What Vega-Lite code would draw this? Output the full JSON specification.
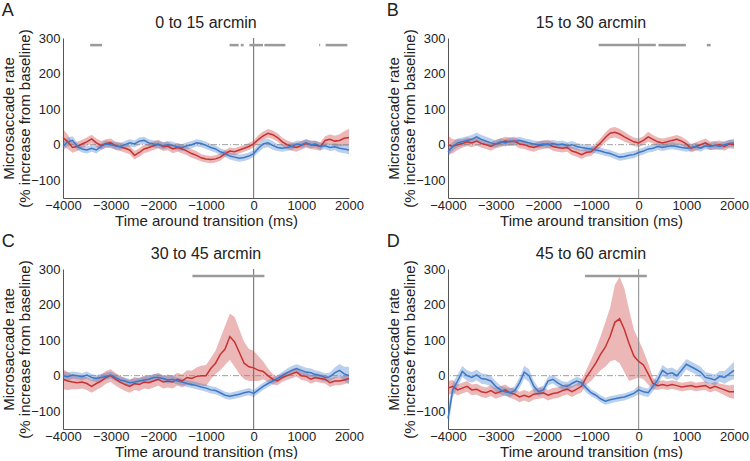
{
"$schema":"https://vega.github.io/schema/vega-lite/v6.json",
"padding":{"left":1,"top":1,"right":0,"bottom":0},
"background":"white",
"config":{"view":{"stroke":null},"font":"Liberation Sans",
"title":{"fontWeight":"normal","color":"#222","font":"Liberation Sans"},
"axis":{"domainColor":"#555","domainWidth":1,"ticks":false,"grid":false,"labelFont":"Liberation Sans","labelFontSize":13,"labelColor":"#222","titleFont":"Liberation Sans","titleFontSize":15,"titleFontWeight":"normal","titleColor":"#222","labelPadding":3,"labelFlush":false,"labelOverlap":false},
"axisY":{"titlePadding":-2,"titleLineHeight":16},
"axisX":{"titlePadding":1,"labelPadding":1}},
"datasets":{
"sig":[
{"p":"A","t0":-3430,"t1":-3180},{"p":"A","t0":-505,"t1":-315},{"p":"A","t0":-270,"t1":-210},{"p":"A","t0":-90,"t1":195},{"p":"A","t0":225,"t1":665},{"p":"A","t0":1375,"t1":1395},{"p":"A","t0":1510,"t1":1965},
{"p":"B","t0":-840,"t1":360},{"p":"B","t0":415,"t1":990},{"p":"B","t0":1430,"t1":1510},
{"p":"C","t0":-1285,"t1":225},
{"p":"D","t0":-1125,"t1":170}],
"ts":[
{"p":"A","s":"r","t":-4000,"m":20,"lo":-5,"hi":45},{"p":"A","s":"r","t":-3900,"m":8,"lo":-12,"hi":28},{"p":"A","s":"r","t":-3800,"m":-8,"lo":-23,"hi":7},{"p":"A","s":"r","t":-3700,"m":-5,"lo":-18,"hi":8},{"p":"A","s":"r","t":-3600,"m":2,"lo":-10,"hi":14},{"p":"A","s":"r","t":-3500,"m":8,"lo":-4,"hi":20},{"p":"A","s":"r","t":-3400,"m":16,"lo":4,"hi":28},{"p":"A","s":"r","t":-3300,"m":5,"lo":-7,"hi":17},{"p":"A","s":"r","t":-3200,"m":-2,"lo":-14,"hi":10},{"p":"A","s":"r","t":-3100,"m":3,"lo":-9,"hi":15},{"p":"A","s":"r","t":-3000,"m":5,"lo":-7,"hi":17},{"p":"A","s":"r","t":-2900,"m":-3,"lo":-15,"hi":9},{"p":"A","s":"r","t":-2800,"m":-6,"lo":-18,"hi":6},{"p":"A","s":"r","t":-2700,"m":-10,"lo":-22,"hi":2},{"p":"A","s":"r","t":-2600,"m":-15,"lo":-27,"hi":-3},{"p":"A","s":"r","t":-2500,"m":-30,"lo":-42,"hi":-18},{"p":"A","s":"r","t":-2400,"m":-22,"lo":-34,"hi":-10},{"p":"A","s":"r","t":-2300,"m":-12,"lo":-24,"hi":0},{"p":"A","s":"r","t":-2200,"m":-8,"lo":-20,"hi":4},{"p":"A","s":"r","t":-2100,"m":-3,"lo":-15,"hi":9},{"p":"A","s":"r","t":-2000,"m":2,"lo":-10,"hi":14},{"p":"A","s":"r","t":-1900,"m":-6,"lo":-18,"hi":6},{"p":"A","s":"r","t":-1800,"m":-4,"lo":-16,"hi":8},{"p":"A","s":"r","t":-1700,"m":-12,"lo":-24,"hi":0},{"p":"A","s":"r","t":-1600,"m":-8,"lo":-20,"hi":4},{"p":"A","s":"r","t":-1500,"m":-12,"lo":-24,"hi":0},{"p":"A","s":"r","t":-1400,"m":-18,"lo":-30,"hi":-6},{"p":"A","s":"r","t":-1300,"m":-25,"lo":-37,"hi":-13},{"p":"A","s":"r","t":-1200,"m":-30,"lo":-42,"hi":-18},{"p":"A","s":"r","t":-1100,"m":-37,"lo":-47,"hi":-27},{"p":"A","s":"r","t":-1000,"m":-40,"lo":-50,"hi":-30},{"p":"A","s":"r","t":-900,"m":-42,"lo":-52,"hi":-32},{"p":"A","s":"r","t":-800,"m":-40,"lo":-50,"hi":-30},{"p":"A","s":"r","t":-700,"m":-35,"lo":-45,"hi":-25},{"p":"A","s":"r","t":-600,"m":-25,"lo":-35,"hi":-15},{"p":"A","s":"r","t":-500,"m":-18,"lo":-28,"hi":-8},{"p":"A","s":"r","t":-400,"m":-20,"lo":-30,"hi":-10},{"p":"A","s":"r","t":-300,"m":-15,"lo":-25,"hi":-5},{"p":"A","s":"r","t":-200,"m":-10,"lo":-20,"hi":0},{"p":"A","s":"r","t":-100,"m":-5,"lo":-15,"hi":5},{"p":"A","s":"r","t":0,"m":2,"lo":-8,"hi":12},{"p":"A","s":"r","t":100,"m":15,"lo":3,"hi":27},{"p":"A","s":"r","t":200,"m":25,"lo":13,"hi":37},{"p":"A","s":"r","t":300,"m":32,"lo":20,"hi":44},{"p":"A","s":"r","t":400,"m":28,"lo":16,"hi":40},{"p":"A","s":"r","t":500,"m":20,"lo":8,"hi":32},{"p":"A","s":"r","t":600,"m":8,"lo":-4,"hi":20},{"p":"A","s":"r","t":700,"m":0,"lo":-12,"hi":12},{"p":"A","s":"r","t":800,"m":-5,"lo":-17,"hi":7},{"p":"A","s":"r","t":900,"m":-8,"lo":-20,"hi":4},{"p":"A","s":"r","t":1000,"m":-2,"lo":-14,"hi":10},{"p":"A","s":"r","t":1100,"m":3,"lo":-9,"hi":15},{"p":"A","s":"r","t":1200,"m":0,"lo":-12,"hi":12},{"p":"A","s":"r","t":1300,"m":-2,"lo":-14,"hi":10},{"p":"A","s":"r","t":1400,"m":-5,"lo":-17,"hi":7},{"p":"A","s":"r","t":1500,"m":12,"lo":0,"hi":24},{"p":"A","s":"r","t":1600,"m":15,"lo":1,"hi":29},{"p":"A","s":"r","t":1700,"m":10,"lo":-5,"hi":25},{"p":"A","s":"r","t":1800,"m":12,"lo":-5,"hi":29},{"p":"A","s":"r","t":1900,"m":18,"lo":-2,"hi":38},{"p":"A","s":"r","t":2000,"m":20,"lo":-5,"hi":45},
{"p":"A","s":"b","t":-4000,"m":-5,"lo":-17,"hi":7},{"p":"A","s":"b","t":-3900,"m":8,"lo":-4,"hi":20},{"p":"A","s":"b","t":-3800,"m":12,"lo":0,"hi":24},{"p":"A","s":"b","t":-3700,"m":-5,"lo":-15,"hi":5},{"p":"A","s":"b","t":-3600,"m":-12,"lo":-22,"hi":-2},{"p":"A","s":"b","t":-3500,"m":-15,"lo":-25,"hi":-5},{"p":"A","s":"b","t":-3400,"m":-10,"lo":-20,"hi":0},{"p":"A","s":"b","t":-3300,"m":-15,"lo":-25,"hi":-5},{"p":"A","s":"b","t":-3200,"m":-5,"lo":-15,"hi":5},{"p":"A","s":"b","t":-3100,"m":2,"lo":-8,"hi":12},{"p":"A","s":"b","t":-3000,"m":0,"lo":-10,"hi":10},{"p":"A","s":"b","t":-2900,"m":-3,"lo":-13,"hi":7},{"p":"A","s":"b","t":-2800,"m":-5,"lo":-15,"hi":5},{"p":"A","s":"b","t":-2700,"m":0,"lo":-10,"hi":10},{"p":"A","s":"b","t":-2600,"m":5,"lo":-5,"hi":15},{"p":"A","s":"b","t":-2500,"m":2,"lo":-8,"hi":12},{"p":"A","s":"b","t":-2400,"m":10,"lo":0,"hi":20},{"p":"A","s":"b","t":-2300,"m":12,"lo":2,"hi":22},{"p":"A","s":"b","t":-2200,"m":5,"lo":-5,"hi":15},{"p":"A","s":"b","t":-2100,"m":2,"lo":-8,"hi":12},{"p":"A","s":"b","t":-2000,"m":0,"lo":-10,"hi":10},{"p":"A","s":"b","t":-1900,"m":-3,"lo":-13,"hi":7},{"p":"A","s":"b","t":-1800,"m":0,"lo":-10,"hi":10},{"p":"A","s":"b","t":-1700,"m":-2,"lo":-12,"hi":8},{"p":"A","s":"b","t":-1600,"m":-6,"lo":-16,"hi":4},{"p":"A","s":"b","t":-1500,"m":-8,"lo":-18,"hi":2},{"p":"A","s":"b","t":-1400,"m":-3,"lo":-13,"hi":7},{"p":"A","s":"b","t":-1300,"m":0,"lo":-10,"hi":10},{"p":"A","s":"b","t":-1200,"m":5,"lo":-5,"hi":15},{"p":"A","s":"b","t":-1100,"m":3,"lo":-7,"hi":13},{"p":"A","s":"b","t":-1000,"m":-2,"lo":-12,"hi":8},{"p":"A","s":"b","t":-900,"m":-8,"lo":-18,"hi":2},{"p":"A","s":"b","t":-800,"m":-12,"lo":-22,"hi":-2},{"p":"A","s":"b","t":-700,"m":-20,"lo":-30,"hi":-10},{"p":"A","s":"b","t":-600,"m":-25,"lo":-35,"hi":-15},{"p":"A","s":"b","t":-500,"m":-32,"lo":-42,"hi":-22},{"p":"A","s":"b","t":-400,"m":-35,"lo":-45,"hi":-25},{"p":"A","s":"b","t":-300,"m":-38,"lo":-48,"hi":-28},{"p":"A","s":"b","t":-200,"m":-36,"lo":-46,"hi":-26},{"p":"A","s":"b","t":-100,"m":-32,"lo":-42,"hi":-22},{"p":"A","s":"b","t":0,"m":-25,"lo":-35,"hi":-15},{"p":"A","s":"b","t":100,"m":-10,"lo":-22,"hi":2},{"p":"A","s":"b","t":200,"m":2,"lo":-10,"hi":14},{"p":"A","s":"b","t":300,"m":5,"lo":-7,"hi":17},{"p":"A","s":"b","t":400,"m":-2,"lo":-14,"hi":10},{"p":"A","s":"b","t":500,"m":-8,"lo":-18,"hi":2},{"p":"A","s":"b","t":600,"m":-10,"lo":-20,"hi":0},{"p":"A","s":"b","t":700,"m":-8,"lo":-18,"hi":2},{"p":"A","s":"b","t":800,"m":-5,"lo":-15,"hi":5},{"p":"A","s":"b","t":900,"m":2,"lo":-8,"hi":12},{"p":"A","s":"b","t":1000,"m":0,"lo":-10,"hi":10},{"p":"A","s":"b","t":1100,"m":5,"lo":-5,"hi":15},{"p":"A","s":"b","t":1200,"m":0,"lo":-10,"hi":10},{"p":"A","s":"b","t":1300,"m":2,"lo":-8,"hi":12},{"p":"A","s":"b","t":1400,"m":-5,"lo":-15,"hi":5},{"p":"A","s":"b","t":1500,"m":-3,"lo":-13,"hi":7},{"p":"A","s":"b","t":1600,"m":-8,"lo":-18,"hi":2},{"p":"A","s":"b","t":1700,"m":-6,"lo":-16,"hi":4},{"p":"A","s":"b","t":1800,"m":-10,"lo":-22,"hi":2},{"p":"A","s":"b","t":1900,"m":-12,"lo":-24,"hi":0},{"p":"A","s":"b","t":2000,"m":-15,"lo":-27,"hi":-3},
{"p":"B","s":"r","t":-4000,"m":0,"lo":-25,"hi":25},{"p":"B","s":"r","t":-3900,"m":-5,"lo":-25,"hi":15},{"p":"B","s":"r","t":-3800,"m":0,"lo":-15,"hi":15},{"p":"B","s":"r","t":-3700,"m":3,"lo":-9,"hi":15},{"p":"B","s":"r","t":-3600,"m":8,"lo":-4,"hi":20},{"p":"B","s":"r","t":-3500,"m":5,"lo":-7,"hi":17},{"p":"B","s":"r","t":-3400,"m":10,"lo":-2,"hi":22},{"p":"B","s":"r","t":-3300,"m":3,"lo":-9,"hi":15},{"p":"B","s":"r","t":-3200,"m":0,"lo":-12,"hi":12},{"p":"B","s":"r","t":-3100,"m":-5,"lo":-17,"hi":7},{"p":"B","s":"r","t":-3000,"m":2,"lo":-10,"hi":14},{"p":"B","s":"r","t":-2900,"m":5,"lo":-7,"hi":17},{"p":"B","s":"r","t":-2800,"m":10,"lo":-2,"hi":22},{"p":"B","s":"r","t":-2700,"m":8,"lo":-4,"hi":20},{"p":"B","s":"r","t":-2600,"m":10,"lo":-2,"hi":22},{"p":"B","s":"r","t":-2500,"m":2,"lo":-10,"hi":14},{"p":"B","s":"r","t":-2400,"m":0,"lo":-12,"hi":12},{"p":"B","s":"r","t":-2300,"m":-5,"lo":-17,"hi":7},{"p":"B","s":"r","t":-2200,"m":-8,"lo":-20,"hi":4},{"p":"B","s":"r","t":-2100,"m":-3,"lo":-15,"hi":9},{"p":"B","s":"r","t":-2000,"m":0,"lo":-12,"hi":12},{"p":"B","s":"r","t":-1900,"m":2,"lo":-10,"hi":14},{"p":"B","s":"r","t":-1800,"m":-5,"lo":-17,"hi":7},{"p":"B","s":"r","t":-1700,"m":-8,"lo":-20,"hi":4},{"p":"B","s":"r","t":-1600,"m":-10,"lo":-22,"hi":2},{"p":"B","s":"r","t":-1500,"m":-8,"lo":-20,"hi":4},{"p":"B","s":"r","t":-1400,"m":-18,"lo":-30,"hi":-6},{"p":"B","s":"r","t":-1300,"m":-22,"lo":-34,"hi":-10},{"p":"B","s":"r","t":-1200,"m":-28,"lo":-40,"hi":-16},{"p":"B","s":"r","t":-1100,"m":-22,"lo":-34,"hi":-10},{"p":"B","s":"r","t":-1000,"m":-20,"lo":-32,"hi":-8},{"p":"B","s":"r","t":-900,"m":-8,"lo":-20,"hi":4},{"p":"B","s":"r","t":-800,"m":5,"lo":-7,"hi":17},{"p":"B","s":"r","t":-700,"m":20,"lo":6,"hi":34},{"p":"B","s":"r","t":-600,"m":32,"lo":17,"hi":47},{"p":"B","s":"r","t":-500,"m":35,"lo":20,"hi":50},{"p":"B","s":"r","t":-400,"m":30,"lo":15,"hi":45},{"p":"B","s":"r","t":-300,"m":22,"lo":8,"hi":36},{"p":"B","s":"r","t":-200,"m":15,"lo":3,"hi":27},{"p":"B","s":"r","t":-100,"m":8,"lo":-4,"hi":20},{"p":"B","s":"r","t":0,"m":5,"lo":-7,"hi":17},{"p":"B","s":"r","t":100,"m":12,"lo":0,"hi":24},{"p":"B","s":"r","t":200,"m":22,"lo":8,"hi":36},{"p":"B","s":"r","t":300,"m":15,"lo":3,"hi":27},{"p":"B","s":"r","t":400,"m":8,"lo":-4,"hi":20},{"p":"B","s":"r","t":500,"m":5,"lo":-7,"hi":17},{"p":"B","s":"r","t":600,"m":8,"lo":-4,"hi":20},{"p":"B","s":"r","t":700,"m":12,"lo":0,"hi":24},{"p":"B","s":"r","t":800,"m":15,"lo":3,"hi":27},{"p":"B","s":"r","t":900,"m":10,"lo":-2,"hi":22},{"p":"B","s":"r","t":1000,"m":2,"lo":-10,"hi":14},{"p":"B","s":"r","t":1100,"m":-10,"lo":-22,"hi":2},{"p":"B","s":"r","t":1200,"m":-5,"lo":-17,"hi":7},{"p":"B","s":"r","t":1300,"m":0,"lo":-12,"hi":12},{"p":"B","s":"r","t":1400,"m":5,"lo":-7,"hi":17},{"p":"B","s":"r","t":1500,"m":-3,"lo":-15,"hi":9},{"p":"B","s":"r","t":1600,"m":-2,"lo":-14,"hi":10},{"p":"B","s":"r","t":1700,"m":0,"lo":-12,"hi":12},{"p":"B","s":"r","t":1800,"m":-5,"lo":-17,"hi":7},{"p":"B","s":"r","t":1900,"m":2,"lo":-10,"hi":14},{"p":"B","s":"r","t":2000,"m":0,"lo":-12,"hi":12},
{"p":"B","s":"b","t":-4000,"m":-20,"lo":-35,"hi":-5},{"p":"B","s":"b","t":-3900,"m":-5,"lo":-17,"hi":7},{"p":"B","s":"b","t":-3800,"m":5,"lo":-7,"hi":17},{"p":"B","s":"b","t":-3700,"m":8,"lo":-4,"hi":20},{"p":"B","s":"b","t":-3600,"m":12,"lo":0,"hi":24},{"p":"B","s":"b","t":-3500,"m":15,"lo":3,"hi":27},{"p":"B","s":"b","t":-3400,"m":22,"lo":10,"hi":34},{"p":"B","s":"b","t":-3300,"m":15,"lo":3,"hi":27},{"p":"B","s":"b","t":-3200,"m":10,"lo":-2,"hi":22},{"p":"B","s":"b","t":-3100,"m":5,"lo":-7,"hi":17},{"p":"B","s":"b","t":-3000,"m":2,"lo":-8,"hi":12},{"p":"B","s":"b","t":-2900,"m":8,"lo":-2,"hi":18},{"p":"B","s":"b","t":-2800,"m":5,"lo":-5,"hi":15},{"p":"B","s":"b","t":-2700,"m":10,"lo":0,"hi":20},{"p":"B","s":"b","t":-2600,"m":8,"lo":-2,"hi":18},{"p":"B","s":"b","t":-2500,"m":12,"lo":2,"hi":22},{"p":"B","s":"b","t":-2400,"m":8,"lo":-2,"hi":18},{"p":"B","s":"b","t":-2300,"m":5,"lo":-5,"hi":15},{"p":"B","s":"b","t":-2200,"m":2,"lo":-8,"hi":12},{"p":"B","s":"b","t":-2100,"m":0,"lo":-10,"hi":10},{"p":"B","s":"b","t":-2000,"m":2,"lo":-8,"hi":12},{"p":"B","s":"b","t":-1900,"m":0,"lo":-10,"hi":10},{"p":"B","s":"b","t":-1800,"m":3,"lo":-7,"hi":13},{"p":"B","s":"b","t":-1700,"m":0,"lo":-10,"hi":10},{"p":"B","s":"b","t":-1600,"m":2,"lo":-8,"hi":12},{"p":"B","s":"b","t":-1500,"m":-3,"lo":-13,"hi":7},{"p":"B","s":"b","t":-1400,"m":0,"lo":-10,"hi":10},{"p":"B","s":"b","t":-1300,"m":-5,"lo":-15,"hi":5},{"p":"B","s":"b","t":-1200,"m":-8,"lo":-18,"hi":2},{"p":"B","s":"b","t":-1100,"m":-10,"lo":-20,"hi":0},{"p":"B","s":"b","t":-1000,"m":-12,"lo":-22,"hi":-2},{"p":"B","s":"b","t":-900,"m":-15,"lo":-25,"hi":-5},{"p":"B","s":"b","t":-800,"m":-18,"lo":-28,"hi":-8},{"p":"B","s":"b","t":-700,"m":-22,"lo":-32,"hi":-12},{"p":"B","s":"b","t":-600,"m":-25,"lo":-35,"hi":-15},{"p":"B","s":"b","t":-500,"m":-30,"lo":-40,"hi":-20},{"p":"B","s":"b","t":-400,"m":-35,"lo":-45,"hi":-25},{"p":"B","s":"b","t":-300,"m":-33,"lo":-43,"hi":-23},{"p":"B","s":"b","t":-200,"m":-30,"lo":-40,"hi":-20},{"p":"B","s":"b","t":-100,"m":-28,"lo":-38,"hi":-18},{"p":"B","s":"b","t":0,"m":-22,"lo":-32,"hi":-12},{"p":"B","s":"b","t":100,"m":-18,"lo":-28,"hi":-8},{"p":"B","s":"b","t":200,"m":-12,"lo":-22,"hi":-2},{"p":"B","s":"b","t":300,"m":-10,"lo":-20,"hi":0},{"p":"B","s":"b","t":400,"m":-5,"lo":-15,"hi":5},{"p":"B","s":"b","t":500,"m":-8,"lo":-18,"hi":2},{"p":"B","s":"b","t":600,"m":-5,"lo":-15,"hi":5},{"p":"B","s":"b","t":700,"m":-3,"lo":-13,"hi":7},{"p":"B","s":"b","t":800,"m":-5,"lo":-15,"hi":5},{"p":"B","s":"b","t":900,"m":-8,"lo":-18,"hi":2},{"p":"B","s":"b","t":1000,"m":-10,"lo":-20,"hi":0},{"p":"B","s":"b","t":1100,"m":-8,"lo":-18,"hi":2},{"p":"B","s":"b","t":1200,"m":-5,"lo":-15,"hi":5},{"p":"B","s":"b","t":1300,"m":-10,"lo":-20,"hi":0},{"p":"B","s":"b","t":1400,"m":-3,"lo":-13,"hi":7},{"p":"B","s":"b","t":1500,"m":-5,"lo":-15,"hi":5},{"p":"B","s":"b","t":1600,"m":-2,"lo":-12,"hi":8},{"p":"B","s":"b","t":1700,"m":-5,"lo":-15,"hi":5},{"p":"B","s":"b","t":1800,"m":0,"lo":-10,"hi":10},{"p":"B","s":"b","t":1900,"m":3,"lo":-7,"hi":13},{"p":"B","s":"b","t":2000,"m":5,"lo":-7,"hi":17},
{"p":"C","s":"r","t":-4000,"m":-10,"lo":-38,"hi":18},{"p":"C","s":"r","t":-3900,"m":-15,"lo":-40,"hi":10},{"p":"C","s":"r","t":-3800,"m":-18,"lo":-38,"hi":2},{"p":"C","s":"r","t":-3700,"m":-20,"lo":-38,"hi":-2},{"p":"C","s":"r","t":-3600,"m":-18,"lo":-36,"hi":0},{"p":"C","s":"r","t":-3500,"m":-22,"lo":-40,"hi":-4},{"p":"C","s":"r","t":-3400,"m":-30,"lo":-48,"hi":-12},{"p":"C","s":"r","t":-3300,"m":-22,"lo":-40,"hi":-4},{"p":"C","s":"r","t":-3200,"m":-15,"lo":-33,"hi":3},{"p":"C","s":"r","t":-3100,"m":-5,"lo":-23,"hi":13},{"p":"C","s":"r","t":-3000,"m":0,"lo":-18,"hi":18},{"p":"C","s":"r","t":-2900,"m":-10,"lo":-28,"hi":8},{"p":"C","s":"r","t":-2800,"m":-18,"lo":-36,"hi":0},{"p":"C","s":"r","t":-2700,"m":-25,"lo":-43,"hi":-7},{"p":"C","s":"r","t":-2600,"m":-30,"lo":-48,"hi":-12},{"p":"C","s":"r","t":-2500,"m":-22,"lo":-40,"hi":-4},{"p":"C","s":"r","t":-2400,"m":-25,"lo":-43,"hi":-7},{"p":"C","s":"r","t":-2300,"m":-18,"lo":-36,"hi":0},{"p":"C","s":"r","t":-2200,"m":-20,"lo":-38,"hi":-2},{"p":"C","s":"r","t":-2100,"m":-15,"lo":-33,"hi":3},{"p":"C","s":"r","t":-2000,"m":-10,"lo":-28,"hi":8},{"p":"C","s":"r","t":-1900,"m":-18,"lo":-36,"hi":0},{"p":"C","s":"r","t":-1800,"m":-15,"lo":-33,"hi":3},{"p":"C","s":"r","t":-1700,"m":-18,"lo":-36,"hi":0},{"p":"C","s":"r","t":-1600,"m":-10,"lo":-28,"hi":8},{"p":"C","s":"r","t":-1500,"m":-15,"lo":-33,"hi":3},{"p":"C","s":"r","t":-1400,"m":-5,"lo":-25,"hi":15},{"p":"C","s":"r","t":-1300,"m":-8,"lo":-30,"hi":14},{"p":"C","s":"r","t":-1200,"m":-2,"lo":-27,"hi":23},{"p":"C","s":"r","t":-1100,"m":0,"lo":-28,"hi":28},{"p":"C","s":"r","t":-1000,"m":0,"lo":-30,"hi":30},{"p":"C","s":"r","t":-900,"m":20,"lo":-10,"hi":50},{"p":"C","s":"r","t":-800,"m":35,"lo":5,"hi":70},{"p":"C","s":"r","t":-700,"m":60,"lo":15,"hi":105},{"p":"C","s":"r","t":-600,"m":75,"lo":30,"hi":140},{"p":"C","s":"r","t":-500,"m":110,"lo":45,"hi":175},{"p":"C","s":"r","t":-400,"m":95,"lo":25,"hi":165},{"p":"C","s":"r","t":-300,"m":65,"lo":5,"hi":130},{"p":"C","s":"r","t":-200,"m":35,"lo":-10,"hi":95},{"p":"C","s":"r","t":-100,"m":25,"lo":-15,"hi":75},{"p":"C","s":"r","t":0,"m":22,"lo":-15,"hi":70},{"p":"C","s":"r","t":100,"m":15,"lo":-15,"hi":55},{"p":"C","s":"r","t":200,"m":12,"lo":-10,"hi":40},{"p":"C","s":"r","t":300,"m":0,"lo":-18,"hi":20},{"p":"C","s":"r","t":400,"m":-10,"lo":-25,"hi":5},{"p":"C","s":"r","t":500,"m":-15,"lo":-27,"hi":-3},{"p":"C","s":"r","t":600,"m":-5,"lo":-17,"hi":7},{"p":"C","s":"r","t":700,"m":0,"lo":-12,"hi":12},{"p":"C","s":"r","t":800,"m":5,"lo":-7,"hi":17},{"p":"C","s":"r","t":900,"m":10,"lo":-2,"hi":22},{"p":"C","s":"r","t":1000,"m":0,"lo":-12,"hi":12},{"p":"C","s":"r","t":1100,"m":-2,"lo":-14,"hi":10},{"p":"C","s":"r","t":1200,"m":-10,"lo":-22,"hi":2},{"p":"C","s":"r","t":1300,"m":-5,"lo":-17,"hi":7},{"p":"C","s":"r","t":1400,"m":-8,"lo":-20,"hi":4},{"p":"C","s":"r","t":1500,"m":-10,"lo":-22,"hi":2},{"p":"C","s":"r","t":1600,"m":-20,"lo":-32,"hi":-8},{"p":"C","s":"r","t":1700,"m":-15,"lo":-27,"hi":-3},{"p":"C","s":"r","t":1800,"m":-15,"lo":-27,"hi":-3},{"p":"C","s":"r","t":1900,"m":-12,"lo":-24,"hi":0},{"p":"C","s":"r","t":2000,"m":-8,"lo":-20,"hi":4},
{"p":"C","s":"b","t":-4000,"m":0,"lo":-12,"hi":12},{"p":"C","s":"b","t":-3900,"m":-3,"lo":-15,"hi":9},{"p":"C","s":"b","t":-3800,"m":2,"lo":-8,"hi":12},{"p":"C","s":"b","t":-3700,"m":0,"lo":-10,"hi":10},{"p":"C","s":"b","t":-3600,"m":-3,"lo":-13,"hi":7},{"p":"C","s":"b","t":-3500,"m":2,"lo":-8,"hi":12},{"p":"C","s":"b","t":-3400,"m":-5,"lo":-15,"hi":5},{"p":"C","s":"b","t":-3300,"m":-8,"lo":-18,"hi":2},{"p":"C","s":"b","t":-3200,"m":-5,"lo":-15,"hi":5},{"p":"C","s":"b","t":-3100,"m":-2,"lo":-12,"hi":8},{"p":"C","s":"b","t":-3000,"m":2,"lo":-8,"hi":12},{"p":"C","s":"b","t":-2900,"m":-5,"lo":-15,"hi":5},{"p":"C","s":"b","t":-2800,"m":-12,"lo":-22,"hi":-2},{"p":"C","s":"b","t":-2700,"m":-15,"lo":-25,"hi":-5},{"p":"C","s":"b","t":-2600,"m":-20,"lo":-30,"hi":-10},{"p":"C","s":"b","t":-2500,"m":-18,"lo":-28,"hi":-8},{"p":"C","s":"b","t":-2400,"m":-15,"lo":-25,"hi":-5},{"p":"C","s":"b","t":-2300,"m":-12,"lo":-22,"hi":-2},{"p":"C","s":"b","t":-2200,"m":-10,"lo":-20,"hi":0},{"p":"C","s":"b","t":-2100,"m":-5,"lo":-15,"hi":5},{"p":"C","s":"b","t":-2000,"m":-5,"lo":-15,"hi":5},{"p":"C","s":"b","t":-1900,"m":-8,"lo":-18,"hi":2},{"p":"C","s":"b","t":-1800,"m":-12,"lo":-22,"hi":-2},{"p":"C","s":"b","t":-1700,"m":-10,"lo":-20,"hi":0},{"p":"C","s":"b","t":-1600,"m":-15,"lo":-25,"hi":-5},{"p":"C","s":"b","t":-1500,"m":-18,"lo":-28,"hi":-8},{"p":"C","s":"b","t":-1400,"m":-22,"lo":-32,"hi":-12},{"p":"C","s":"b","t":-1300,"m":-25,"lo":-35,"hi":-15},{"p":"C","s":"b","t":-1200,"m":-28,"lo":-38,"hi":-18},{"p":"C","s":"b","t":-1100,"m":-32,"lo":-42,"hi":-22},{"p":"C","s":"b","t":-1000,"m":-35,"lo":-45,"hi":-25},{"p":"C","s":"b","t":-900,"m":-40,"lo":-50,"hi":-30},{"p":"C","s":"b","t":-800,"m":-42,"lo":-52,"hi":-32},{"p":"C","s":"b","t":-700,"m":-48,"lo":-58,"hi":-38},{"p":"C","s":"b","t":-600,"m":-55,"lo":-65,"hi":-45},{"p":"C","s":"b","t":-500,"m":-58,"lo":-68,"hi":-48},{"p":"C","s":"b","t":-400,"m":-55,"lo":-65,"hi":-45},{"p":"C","s":"b","t":-300,"m":-52,"lo":-62,"hi":-42},{"p":"C","s":"b","t":-200,"m":-48,"lo":-58,"hi":-38},{"p":"C","s":"b","t":-100,"m":-45,"lo":-55,"hi":-35},{"p":"C","s":"b","t":0,"m":-50,"lo":-60,"hi":-40},{"p":"C","s":"b","t":100,"m":-40,"lo":-50,"hi":-30},{"p":"C","s":"b","t":200,"m":-30,"lo":-40,"hi":-20},{"p":"C","s":"b","t":300,"m":-22,"lo":-32,"hi":-12},{"p":"C","s":"b","t":400,"m":-15,"lo":-25,"hi":-5},{"p":"C","s":"b","t":500,"m":-8,"lo":-18,"hi":2},{"p":"C","s":"b","t":600,"m":0,"lo":-10,"hi":10},{"p":"C","s":"b","t":700,"m":8,"lo":-4,"hi":20},{"p":"C","s":"b","t":800,"m":15,"lo":3,"hi":27},{"p":"C","s":"b","t":900,"m":20,"lo":8,"hi":32},{"p":"C","s":"b","t":1000,"m":15,"lo":3,"hi":27},{"p":"C","s":"b","t":1100,"m":10,"lo":-2,"hi":22},{"p":"C","s":"b","t":1200,"m":8,"lo":-4,"hi":20},{"p":"C","s":"b","t":1300,"m":3,"lo":-9,"hi":15},{"p":"C","s":"b","t":1400,"m":0,"lo":-12,"hi":12},{"p":"C","s":"b","t":1500,"m":-5,"lo":-17,"hi":7},{"p":"C","s":"b","t":1600,"m":-3,"lo":-15,"hi":9},{"p":"C","s":"b","t":1700,"m":8,"lo":-7,"hi":23},{"p":"C","s":"b","t":1800,"m":15,"lo":-3,"hi":33},{"p":"C","s":"b","t":1900,"m":5,"lo":-15,"hi":25},{"p":"C","s":"b","t":2000,"m":0,"lo":-25,"hi":25},
{"p":"D","s":"r","t":-4000,"m":-35,"lo":-55,"hi":-15},{"p":"D","s":"r","t":-3900,"m":-30,"lo":-48,"hi":-12},{"p":"D","s":"r","t":-3800,"m":-40,"lo":-55,"hi":-25},{"p":"D","s":"r","t":-3700,"m":-35,"lo":-50,"hi":-20},{"p":"D","s":"r","t":-3600,"m":-30,"lo":-45,"hi":-15},{"p":"D","s":"r","t":-3500,"m":-40,"lo":-55,"hi":-25},{"p":"D","s":"r","t":-3400,"m":-38,"lo":-53,"hi":-23},{"p":"D","s":"r","t":-3300,"m":-45,"lo":-60,"hi":-30},{"p":"D","s":"r","t":-3200,"m":-48,"lo":-63,"hi":-33},{"p":"D","s":"r","t":-3100,"m":-42,"lo":-57,"hi":-27},{"p":"D","s":"r","t":-3000,"m":-50,"lo":-65,"hi":-35},{"p":"D","s":"r","t":-2900,"m":-45,"lo":-60,"hi":-30},{"p":"D","s":"r","t":-2800,"m":-40,"lo":-55,"hi":-25},{"p":"D","s":"r","t":-2700,"m":-48,"lo":-63,"hi":-33},{"p":"D","s":"r","t":-2600,"m":-52,"lo":-67,"hi":-37},{"p":"D","s":"r","t":-2500,"m":-60,"lo":-75,"hi":-45},{"p":"D","s":"r","t":-2400,"m":-55,"lo":-70,"hi":-40},{"p":"D","s":"r","t":-2300,"m":-60,"lo":-75,"hi":-45},{"p":"D","s":"r","t":-2200,"m":-52,"lo":-67,"hi":-37},{"p":"D","s":"r","t":-2100,"m":-50,"lo":-65,"hi":-35},{"p":"D","s":"r","t":-2000,"m":-48,"lo":-63,"hi":-33},{"p":"D","s":"r","t":-1900,"m":-55,"lo":-70,"hi":-40},{"p":"D","s":"r","t":-1800,"m":-50,"lo":-65,"hi":-35},{"p":"D","s":"r","t":-1700,"m":-48,"lo":-63,"hi":-33},{"p":"D","s":"r","t":-1600,"m":-42,"lo":-57,"hi":-27},{"p":"D","s":"r","t":-1500,"m":-38,"lo":-53,"hi":-23},{"p":"D","s":"r","t":-1400,"m":-45,"lo":-60,"hi":-30},{"p":"D","s":"r","t":-1300,"m":-38,"lo":-53,"hi":-23},{"p":"D","s":"r","t":-1200,"m":-30,"lo":-47,"hi":-13},{"p":"D","s":"r","t":-1100,"m":-5,"lo":-25,"hi":15},{"p":"D","s":"r","t":-1000,"m":15,"lo":-15,"hi":45},{"p":"D","s":"r","t":-900,"m":35,"lo":0,"hi":75},{"p":"D","s":"r","t":-800,"m":60,"lo":15,"hi":110},{"p":"D","s":"r","t":-700,"m":80,"lo":25,"hi":150},{"p":"D","s":"r","t":-600,"m":110,"lo":40,"hi":190},{"p":"D","s":"r","t":-500,"m":150,"lo":45,"hi":255},{"p":"D","s":"r","t":-400,"m":160,"lo":35,"hi":278},{"p":"D","s":"r","t":-300,"m":130,"lo":10,"hi":245},{"p":"D","s":"r","t":-200,"m":90,"lo":-15,"hi":185},{"p":"D","s":"r","t":-100,"m":55,"lo":-10,"hi":130},{"p":"D","s":"r","t":0,"m":40,"lo":-5,"hi":100},{"p":"D","s":"r","t":100,"m":30,"lo":-10,"hi":70},{"p":"D","s":"r","t":200,"m":5,"lo":-25,"hi":35},{"p":"D","s":"r","t":300,"m":-22,"lo":-38,"hi":-6},{"p":"D","s":"r","t":400,"m":-28,"lo":-40,"hi":-16},{"p":"D","s":"r","t":500,"m":-25,"lo":-37,"hi":-13},{"p":"D","s":"r","t":600,"m":-28,"lo":-40,"hi":-16},{"p":"D","s":"r","t":700,"m":-25,"lo":-37,"hi":-13},{"p":"D","s":"r","t":800,"m":-28,"lo":-40,"hi":-16},{"p":"D","s":"r","t":900,"m":-32,"lo":-44,"hi":-20},{"p":"D","s":"r","t":1000,"m":-30,"lo":-42,"hi":-18},{"p":"D","s":"r","t":1100,"m":-28,"lo":-40,"hi":-16},{"p":"D","s":"r","t":1200,"m":-32,"lo":-44,"hi":-20},{"p":"D","s":"r","t":1300,"m":-30,"lo":-42,"hi":-18},{"p":"D","s":"r","t":1400,"m":-28,"lo":-40,"hi":-16},{"p":"D","s":"r","t":1500,"m":-35,"lo":-47,"hi":-23},{"p":"D","s":"r","t":1600,"m":-30,"lo":-42,"hi":-18},{"p":"D","s":"r","t":1700,"m":-35,"lo":-48,"hi":-22},{"p":"D","s":"r","t":1800,"m":-40,"lo":-55,"hi":-25},{"p":"D","s":"r","t":1900,"m":-45,"lo":-62,"hi":-28},{"p":"D","s":"r","t":2000,"m":-45,"lo":-65,"hi":-25},
{"p":"D","s":"b","t":-4000,"m":-120,"lo":-150,"hi":-90},{"p":"D","s":"b","t":-3900,"m":-40,"lo":-60,"hi":-20},{"p":"D","s":"b","t":-3800,"m":-15,"lo":-33,"hi":3},{"p":"D","s":"b","t":-3700,"m":12,"lo":-3,"hi":27},{"p":"D","s":"b","t":-3600,"m":0,"lo":-15,"hi":15},{"p":"D","s":"b","t":-3500,"m":-5,"lo":-20,"hi":10},{"p":"D","s":"b","t":-3400,"m":2,"lo":-13,"hi":17},{"p":"D","s":"b","t":-3300,"m":-8,"lo":-23,"hi":7},{"p":"D","s":"b","t":-3200,"m":-10,"lo":-25,"hi":5},{"p":"D","s":"b","t":-3100,"m":-15,"lo":-30,"hi":0},{"p":"D","s":"b","t":-3000,"m":-30,"lo":-45,"hi":-15},{"p":"D","s":"b","t":-2900,"m":-40,"lo":-52,"hi":-28},{"p":"D","s":"b","t":-2800,"m":-45,"lo":-57,"hi":-33},{"p":"D","s":"b","t":-2700,"m":-48,"lo":-60,"hi":-36},{"p":"D","s":"b","t":-2600,"m":-42,"lo":-54,"hi":-30},{"p":"D","s":"b","t":-2500,"m":-20,"lo":-35,"hi":-5},{"p":"D","s":"b","t":-2400,"m":10,"lo":-8,"hi":28},{"p":"D","s":"b","t":-2300,"m":0,"lo":-18,"hi":18},{"p":"D","s":"b","t":-2200,"m":-30,"lo":-45,"hi":-15},{"p":"D","s":"b","t":-2100,"m":-45,"lo":-57,"hi":-33},{"p":"D","s":"b","t":-2000,"m":-40,"lo":-52,"hi":-28},{"p":"D","s":"b","t":-1900,"m":-15,"lo":-27,"hi":-3},{"p":"D","s":"b","t":-1800,"m":-10,"lo":-22,"hi":2},{"p":"D","s":"b","t":-1700,"m":-20,"lo":-32,"hi":-8},{"p":"D","s":"b","t":-1600,"m":-28,"lo":-40,"hi":-16},{"p":"D","s":"b","t":-1500,"m":-30,"lo":-42,"hi":-18},{"p":"D","s":"b","t":-1400,"m":-22,"lo":-34,"hi":-10},{"p":"D","s":"b","t":-1300,"m":-15,"lo":-27,"hi":-3},{"p":"D","s":"b","t":-1200,"m":-20,"lo":-32,"hi":-8},{"p":"D","s":"b","t":-1100,"m":-35,"lo":-47,"hi":-23},{"p":"D","s":"b","t":-1000,"m":-48,"lo":-58,"hi":-38},{"p":"D","s":"b","t":-900,"m":-55,"lo":-65,"hi":-45},{"p":"D","s":"b","t":-800,"m":-65,"lo":-75,"hi":-55},{"p":"D","s":"b","t":-700,"m":-72,"lo":-82,"hi":-62},{"p":"D","s":"b","t":-600,"m":-68,"lo":-78,"hi":-58},{"p":"D","s":"b","t":-500,"m":-65,"lo":-75,"hi":-55},{"p":"D","s":"b","t":-400,"m":-62,"lo":-72,"hi":-52},{"p":"D","s":"b","t":-300,"m":-60,"lo":-70,"hi":-50},{"p":"D","s":"b","t":-200,"m":-55,"lo":-65,"hi":-45},{"p":"D","s":"b","t":-100,"m":-50,"lo":-60,"hi":-40},{"p":"D","s":"b","t":0,"m":-40,"lo":-52,"hi":-28},{"p":"D","s":"b","t":100,"m":-45,"lo":-57,"hi":-33},{"p":"D","s":"b","t":200,"m":-48,"lo":-60,"hi":-36},{"p":"D","s":"b","t":300,"m":-30,"lo":-44,"hi":-16},{"p":"D","s":"b","t":400,"m":-12,"lo":-27,"hi":3},{"p":"D","s":"b","t":500,"m":15,"lo":0,"hi":30},{"p":"D","s":"b","t":600,"m":5,"lo":-10,"hi":20},{"p":"D","s":"b","t":700,"m":8,"lo":-7,"hi":23},{"p":"D","s":"b","t":800,"m":0,"lo":-15,"hi":15},{"p":"D","s":"b","t":900,"m":15,"lo":0,"hi":30},{"p":"D","s":"b","t":1000,"m":32,"lo":17,"hi":47},{"p":"D","s":"b","t":1100,"m":25,"lo":10,"hi":40},{"p":"D","s":"b","t":1200,"m":18,"lo":3,"hi":33},{"p":"D","s":"b","t":1300,"m":10,"lo":-5,"hi":25},{"p":"D","s":"b","t":1400,"m":-5,"lo":-20,"hi":10},{"p":"D","s":"b","t":1500,"m":-8,"lo":-23,"hi":7},{"p":"D","s":"b","t":1600,"m":-12,"lo":-27,"hi":3},{"p":"D","s":"b","t":1700,"m":-2,"lo":-17,"hi":13},{"p":"D","s":"b","t":1800,"m":-5,"lo":-23,"hi":13},{"p":"D","s":"b","t":1900,"m":5,"lo":-15,"hi":25},{"p":"D","s":"b","t":2000,"m":15,"lo":-10,"hi":40}
]},
"spacing":4,
"vconcat":[
{"hconcat":[
{"title":{"text":"A","anchor":"start","frame":"bounds","fontSize":18,"offset":-5},
"vconcat":[{"width":286,"height":160,"title":{"text":"0 to 15 arcmin","fontSize":16,"offset":-2},
"layer":[
{"data":{"name":"ts"},"transform":[{"filter":"datum.p=='A'"}],"mark":{"type":"area","opacity":0.35},"encoding":{"x":{"field":"t","type":"quantitative","scale":{"domain":[-4000,2000],"nice":false,"zero":false},"axis":{"title":"Time around transition (ms)","values":[-4000,-3000,-2000,-1000,0,1000,2000],"format":"d"}},"y":{"field":"lo","type":"quantitative","scale":{"domain":[-150,300],"nice":false},"axis":{"title":["Microsaccade rate","(% increase from baseline)"],"values":[-100,0,100,200,300],"format":"d"}},"y2":{"field":"hi"},"color":{"field":"s","type":"nominal","scale":{"domain":["b","r"],"range":["#3c78c8","#c83232"]},"legend":null}}},
{"data":{"values":[{}]},"mark":{"type":"rule","color":"#888","strokeDash":[6,2,1,2],"strokeWidth":0.8},"encoding":{"y":{"datum":0,"axis":{"title":["Microsaccade rate","(% increase from baseline)"],"values":[-100,0,100,200,300],"format":"d"}}}},
{"data":{"values":[{}]},"mark":{"type":"rule","color":"#666","strokeWidth":1},"encoding":{"x":{"datum":0,"axis":{"title":"Time around transition (ms)","values":[-4000,-3000,-2000,-1000,0,1000,2000],"format":"d"}}}},
{"data":{"name":"ts"},"transform":[{"filter":"datum.p=='A'"}],"mark":{"type":"line","strokeWidth":1.5},"encoding":{"x":{"field":"t","type":"quantitative","axis":{"title":"Time around transition (ms)","values":[-4000,-3000,-2000,-1000,0,1000,2000],"format":"d"}},"y":{"field":"m","type":"quantitative","axis":{"title":["Microsaccade rate","(% increase from baseline)"],"values":[-100,0,100,200,300],"format":"d"}},"color":{"field":"s","type":"nominal","legend":null}}},
{"data":{"name":"sig"},"transform":[{"filter":"datum.p=='A'"}],"mark":{"type":"rule","color":"#9a9a9a","strokeWidth":2.5},"encoding":{"x":{"field":"t0","type":"quantitative","axis":{"title":"Time around transition (ms)","values":[-4000,-3000,-2000,-1000,0,1000,2000],"format":"d"}},"x2":{"field":"t1"},"y":{"datum":280,"axis":{"title":["Microsaccade rate","(% increase from baseline)"],"values":[-100,0,100,200,300],"format":"d"}}}}
]}]},
{"title":{"text":"B","anchor":"start","frame":"bounds","fontSize":18,"offset":-5},
"vconcat":[{"width":286,"height":160,"title":{"text":"15 to 30 arcmin","fontSize":16,"offset":-2},
"layer":[
{"data":{"name":"ts"},"transform":[{"filter":"datum.p=='B'"}],"mark":{"type":"area","opacity":0.35},"encoding":{"x":{"field":"t","type":"quantitative","scale":{"domain":[-4000,2000],"nice":false,"zero":false},"axis":{"title":"Time around transition (ms)","values":[-4000,-3000,-2000,-1000,0,1000,2000],"format":"d"}},"y":{"field":"lo","type":"quantitative","scale":{"domain":[-150,300],"nice":false},"axis":{"title":["Microsaccade rate","(% increase from baseline)"],"values":[-100,0,100,200,300],"format":"d"}},"y2":{"field":"hi"},"color":{"field":"s","type":"nominal","scale":{"domain":["b","r"],"range":["#3c78c8","#c83232"]},"legend":null}}},
{"data":{"values":[{}]},"mark":{"type":"rule","color":"#888","strokeDash":[6,2,1,2],"strokeWidth":0.8},"encoding":{"y":{"datum":0,"axis":{"title":["Microsaccade rate","(% increase from baseline)"],"values":[-100,0,100,200,300],"format":"d"}}}},
{"data":{"values":[{}]},"mark":{"type":"rule","color":"#888","strokeWidth":1},"encoding":{"x":{"datum":0,"axis":{"title":"Time around transition (ms)","values":[-4000,-3000,-2000,-1000,0,1000,2000],"format":"d"}}}},
{"data":{"name":"ts"},"transform":[{"filter":"datum.p=='B'"}],"mark":{"type":"line","strokeWidth":1.5},"encoding":{"x":{"field":"t","type":"quantitative","axis":{"title":"Time around transition (ms)","values":[-4000,-3000,-2000,-1000,0,1000,2000],"format":"d"}},"y":{"field":"m","type":"quantitative","axis":{"title":["Microsaccade rate","(% increase from baseline)"],"values":[-100,0,100,200,300],"format":"d"}},"color":{"field":"s","type":"nominal","legend":null}}},
{"data":{"name":"sig"},"transform":[{"filter":"datum.p=='B'"}],"mark":{"type":"rule","color":"#9a9a9a","strokeWidth":2.5},"encoding":{"x":{"field":"t0","type":"quantitative","axis":{"title":"Time around transition (ms)","values":[-4000,-3000,-2000,-1000,0,1000,2000],"format":"d"}},"x2":{"field":"t1"},"y":{"datum":280,"axis":{"title":["Microsaccade rate","(% increase from baseline)"],"values":[-100,0,100,200,300],"format":"d"}}}}
]}]}
],"spacing":22},
{"hconcat":[
{"title":{"text":"C","anchor":"start","frame":"bounds","fontSize":18,"offset":-5},
"vconcat":[{"width":286,"height":160,"title":{"text":"30 to 45 arcmin","fontSize":16,"offset":-2},
"layer":[
{"data":{"name":"ts"},"transform":[{"filter":"datum.p=='C'"}],"mark":{"type":"area","opacity":0.35},"encoding":{"x":{"field":"t","type":"quantitative","scale":{"domain":[-4000,2000],"nice":false,"zero":false},"axis":{"title":"Time around transition (ms)","values":[-4000,-3000,-2000,-1000,0,1000,2000],"format":"d"}},"y":{"field":"lo","type":"quantitative","scale":{"domain":[-150,300],"nice":false},"axis":{"title":["Microsaccade rate","(% increase from baseline)"],"values":[-100,0,100,200,300],"format":"d"}},"y2":{"field":"hi"},"color":{"field":"s","type":"nominal","scale":{"domain":["b","r"],"range":["#3c78c8","#c83232"]},"legend":null}}},
{"data":{"values":[{}]},"mark":{"type":"rule","color":"#888","strokeDash":[6,2,1,2],"strokeWidth":0.8},"encoding":{"y":{"datum":0,"axis":{"title":["Microsaccade rate","(% increase from baseline)"],"values":[-100,0,100,200,300],"format":"d"}}}},
{"data":{"values":[{}]},"mark":{"type":"rule","color":"#666","strokeWidth":1},"encoding":{"x":{"datum":0,"axis":{"title":"Time around transition (ms)","values":[-4000,-3000,-2000,-1000,0,1000,2000],"format":"d"}}}},
{"data":{"name":"ts"},"transform":[{"filter":"datum.p=='C'"}],"mark":{"type":"line","strokeWidth":1.5},"encoding":{"x":{"field":"t","type":"quantitative","axis":{"title":"Time around transition (ms)","values":[-4000,-3000,-2000,-1000,0,1000,2000],"format":"d"}},"y":{"field":"m","type":"quantitative","axis":{"title":["Microsaccade rate","(% increase from baseline)"],"values":[-100,0,100,200,300],"format":"d"}},"color":{"field":"s","type":"nominal","legend":null}}},
{"data":{"name":"sig"},"transform":[{"filter":"datum.p=='C'"}],"mark":{"type":"rule","color":"#9a9a9a","strokeWidth":2.5},"encoding":{"x":{"field":"t0","type":"quantitative","axis":{"title":"Time around transition (ms)","values":[-4000,-3000,-2000,-1000,0,1000,2000],"format":"d"}},"x2":{"field":"t1"},"y":{"datum":280,"axis":{"title":["Microsaccade rate","(% increase from baseline)"],"values":[-100,0,100,200,300],"format":"d"}}}}
]}]},
{"title":{"text":"D","anchor":"start","frame":"bounds","fontSize":18,"offset":-5},
"vconcat":[{"width":286,"height":160,"title":{"text":"45 to 60 arcmin","fontSize":16,"offset":-2},
"layer":[
{"data":{"name":"ts"},"transform":[{"filter":"datum.p=='D'"}],"mark":{"type":"area","opacity":0.35},"encoding":{"x":{"field":"t","type":"quantitative","scale":{"domain":[-4000,2000],"nice":false,"zero":false},"axis":{"title":"Time around transition (ms)","values":[-4000,-3000,-2000,-1000,0,1000,2000],"format":"d"}},"y":{"field":"lo","type":"quantitative","scale":{"domain":[-150,300],"nice":false},"axis":{"title":["Microsaccade rate","(% increase from baseline)"],"values":[-100,0,100,200,300],"format":"d"}},"y2":{"field":"hi"},"color":{"field":"s","type":"nominal","scale":{"domain":["b","r"],"range":["#3c78c8","#c83232"]},"legend":null}}},
{"data":{"values":[{}]},"mark":{"type":"rule","color":"#888","strokeDash":[6,2,1,2],"strokeWidth":0.8},"encoding":{"y":{"datum":0,"axis":{"title":["Microsaccade rate","(% increase from baseline)"],"values":[-100,0,100,200,300],"format":"d"}}}},
{"data":{"values":[{}]},"mark":{"type":"rule","color":"#888","strokeWidth":1},"encoding":{"x":{"datum":0,"axis":{"title":"Time around transition (ms)","values":[-4000,-3000,-2000,-1000,0,1000,2000],"format":"d"}}}},
{"data":{"name":"ts"},"transform":[{"filter":"datum.p=='D'"}],"mark":{"type":"line","strokeWidth":1.5},"encoding":{"x":{"field":"t","type":"quantitative","axis":{"title":"Time around transition (ms)","values":[-4000,-3000,-2000,-1000,0,1000,2000],"format":"d"}},"y":{"field":"m","type":"quantitative","axis":{"title":["Microsaccade rate","(% increase from baseline)"],"values":[-100,0,100,200,300],"format":"d"}},"color":{"field":"s","type":"nominal","legend":null}}},
{"data":{"name":"sig"},"transform":[{"filter":"datum.p=='D'"}],"mark":{"type":"rule","color":"#9a9a9a","strokeWidth":2.5},"encoding":{"x":{"field":"t0","type":"quantitative","axis":{"title":"Time around transition (ms)","values":[-4000,-3000,-2000,-1000,0,1000,2000],"format":"d"}},"x2":{"field":"t1"},"y":{"datum":280,"axis":{"title":["Microsaccade rate","(% increase from baseline)"],"values":[-100,0,100,200,300],"format":"d"}}}}
]}]}
],"spacing":22}
]
}
